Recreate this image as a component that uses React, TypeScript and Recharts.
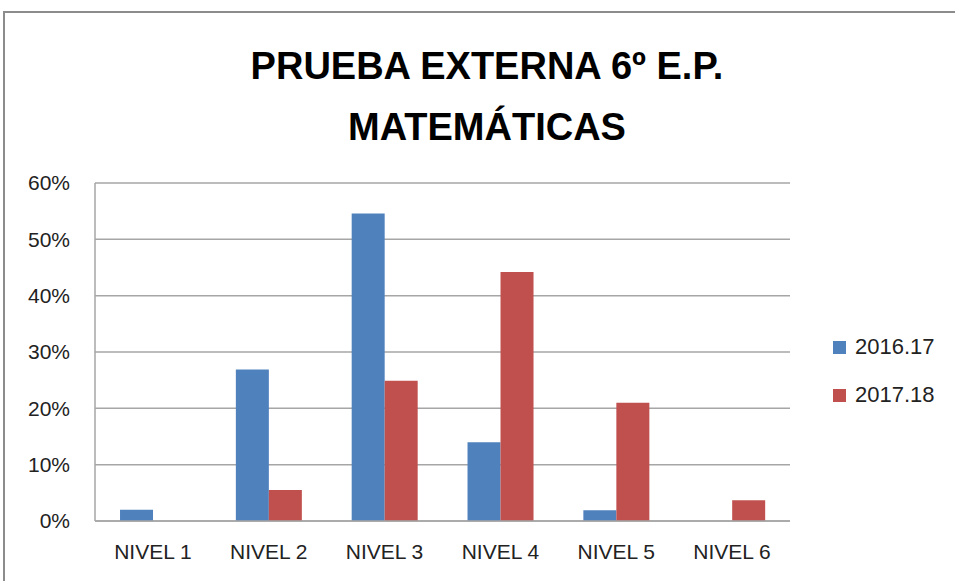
import React from 'react'
import { BarChart, Bar, XAxis, YAxis, CartesianGrid, Legend } from 'recharts'

const levels = ['NIVEL 1', 'NIVEL 2', 'NIVEL 3', 'NIVEL 4', 'NIVEL 5', 'NIVEL 6']
const course1617 = [2, 26.9, 54.6, 14, 1.9, 0]
const course1718 = [0, 5.5, 24.9, 44.2, 21, 3.7]
const yTicks = [0, 10, 20, 30, 40, 50, 60]

const data = levels.map((name, i) => ({
  name,
  c1617: course1617[i],
  c1718: course1718[i],
}))

const font = '"Liberation Sans", Arial, sans-serif'

function LegendBox({ payload }: any) {
  return (
    <div style={{ fontFamily: font, fontSize: 22, color: '#222' }}>
      {(payload || []).map((p: any) => (
        <div key={p.value} style={{ display: 'flex', alignItems: 'center', height: 48 }}>
          <span
            style={{ width: 13, height: 13, background: p.color, display: 'inline-block', marginRight: 9 }}
          />
          <span>{p.value}</span>
        </div>
      ))}
    </div>
  )
}

export default function App() {
  return (
    <div style={{ position: 'absolute', left: 0, top: 0, width: 955, height: 581, overflow: 'hidden', background: '#fff' }}>
      <div
        style={{
          position: 'absolute',
          left: 3,
          top: 11,
          width: 1000,
          height: 700,
          border: '2px solid #8c8c8c',
        }}
      />
      <div
        style={{
          position: 'absolute',
          left: 0,
          width: 974,
          top: 36,
          textAlign: 'center',
          fontFamily: font,
          fontWeight: 'bold',
          fontSize: 38,
          lineHeight: '61px',
          color: '#000',
        }}
      >
        PRUEBA EXTERNA 6º E.P.
        <br />
        MATEMÁTICAS
      </div>
      <div style={{ position: 'absolute', left: 0, top: 0 }}>
        <BarChart
          width={955}
          height={581}
          data={data}
          margin={{ top: 183, right: 45, left: 0, bottom: 0 }}
          barCategoryGap="21.6%"
          barGap={0}
        >
          <CartesianGrid vertical={false} stroke="#a6a6a6" strokeWidth={1.5} />
          <XAxis
            dataKey="name"
            height={60}
            tickLine={false}
            tickSize={0}
            tickMargin={23}
            axisLine={{ stroke: '#a6a6a6', strokeWidth: 1.5 }}
            tick={{ fill: '#222', fontSize: 21, fontFamily: font }}
          />
          <YAxis
            width={95}
            domain={[0, 60]}
            ticks={yTicks}
            interval={0}
            tickFormatter={(v) => `${v}%`}
            tickLine={false}
            tickSize={0}
            tickMargin={25}
            axisLine={{ stroke: '#a6a6a6', strokeWidth: 1.5 }}
            tick={{ fill: '#222', fontSize: 21, fontFamily: font }}
          />
          <Legend
            layout="vertical"
            verticalAlign="top"
            align="right"
            content={<LegendBox />}
            wrapperStyle={{ left: 833, top: 323, width: 120 }}
          />
          <Bar dataKey="c1617" name="2016.17" fill="#4f81bd" isAnimationActive={false} />
          <Bar dataKey="c1718" name="2017.18" fill="#c0504d" isAnimationActive={false} />
        </BarChart>
      </div>
    </div>
  )
}
